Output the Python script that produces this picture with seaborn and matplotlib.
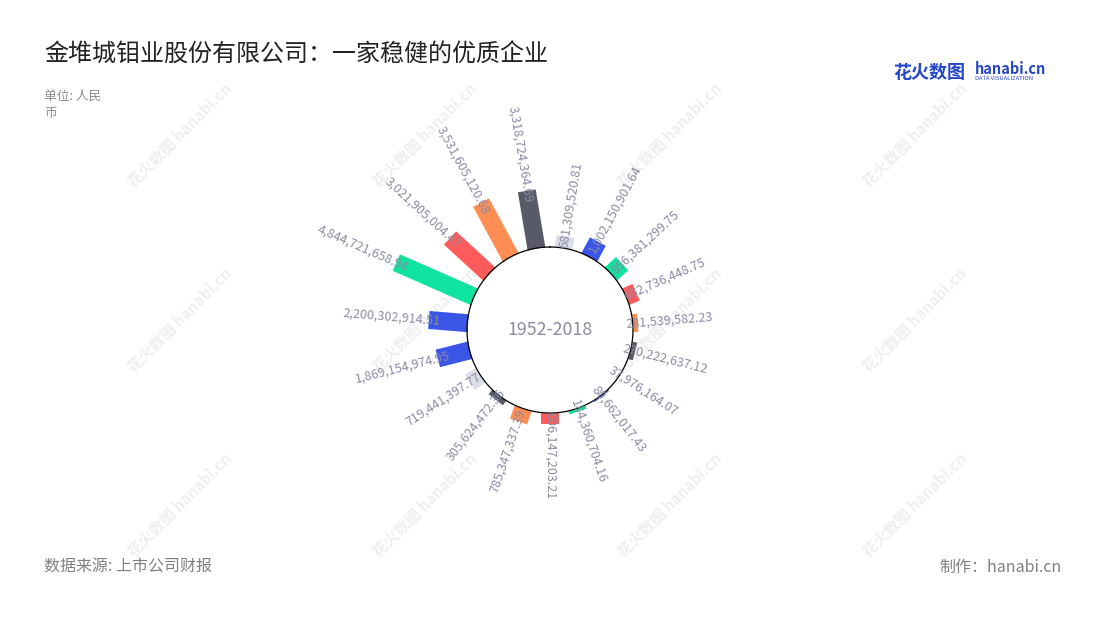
import numpy as np
import matplotlib
matplotlib.use('Agg')
from matplotlib import pyplot as plt
import seaborn as sns

# values clockwise from the top, 19 years
values = [681309520.81, 1002150901.64, 856381299.75, 632736448.75, 281539582.23,
          270222637.12, 37976164.07, 80662017.43, 184360704.16, 606147203.21,
          785347337.39, 305624472.36, 719441397.77, 1869154974.95, 2200302914.51,
          4844721658.94, 3021905004.47, 3531605120.68, 3318724364.69]
color_keys = ["lg", "b", "g", "r", "o", "dg", "lg", "b", "g", "r",
              "o", "dg", "lg", "b", "b", "g", "r", "o", "dg"]
palette = {"dg": "#595a68", "lg": "#dcdfe8", "b": "#3b55e6",
           "g": "#0fe3a0", "r": "#ff5b5a", "o": "#ff8e55"}

title = "金堆城钼业股份有限公司：一家稳健的优质企业"
unit = "单位: 人民\n币"
source = "数据来源: 上市公司财报"
maker = "制作：hanabi.cn"
center_label = "1952-2018"

sns.set_theme(style="white")
plt.rcParams['font.family'] = ['Noto Sans CJK SC', 'DejaVu Sans']

W, H = 1100, 620
fig = plt.figure(figsize=(W / 100, H / 100), dpi=100)
fig.patch.set_facecolor("white")

# polar axes, radius in pixels
cx, cy, R = 550, 330, 210
inner = 83
px_per_b = 17.5
half_w = 9  # bars are straight rectangles, 18px wide
ax = fig.add_axes([(cx - R) / W, (H - cy - R) / H, 2 * R / W, 2 * R / H], projection="polar")
ax.set_theta_zero_location("N")
ax.set_theta_direction(-1)
ax.set_ylim(0, R)
ax.set_axis_off()
ax.patch.set_alpha(0)

n = len(values)
slot = 2 * np.pi / n
theta = slot / 2 + np.arange(n) * slot
heights = np.array(values) / 1e9 * px_per_b
colors = [palette[k] for k in color_keys]

for t, h, c in zip(theta, heights, colors):
    d0, d1 = inner - 6, inner + h
    ds = [d0, d1, d1, d0]
    ws = [-half_w, -half_w, half_w, half_w]
    rs = [np.hypot(d, w) for d, w in zip(ds, ws)]
    ts = [t + np.arctan2(w, d) for d, w in zip(ds, ws)]
    ax.fill(ts, rs, color=c, linewidth=0, zorder=2)

# white hub with thin black outline
circ = np.linspace(0, 2 * np.pi, 400)
ax.fill_between(circ, 0, inner, color="white", zorder=2.5, linewidth=0)
ax.plot(circ, np.full_like(circ, inner), color="black", lw=0.9, zorder=3)

for t, h, v in zip(theta, heights, values):
    deg = np.degrees(t)
    r = inner + h - 12
    if deg <= 180:
        rot, ha = 90 - deg, "left"
    else:
        rot, ha = 270 - deg, "right"
    ax.text(t, r, f"{v:,.2f}", rotation=rot, rotation_mode="anchor", ha=ha, va="center",
            fontsize=9, color="#8a8ba3", zorder=4)

ax.text(0, 0, center_label, ha="center", va="center", fontsize=12.8, color="#8a8ba3", zorder=4)

# watermarks
for wx in [180, 425, 670, 915]:
    for wy in [135, 320, 505]:
        fig.text(wx / W, 1 - wy / H, "花火数图 hanabi.cn", rotation=45, ha="center", va="center",
                 fontsize=11, fontweight="bold", color="#efefef", zorder=-1)

fig.text(44 / W, 1 - 55 / H, title, ha="left", va="center", fontsize=17.3, color="#222222")
fig.text(44 / W, 1 - 90 / H, unit, ha="left", va="top", fontsize=9.2, color="#8c8c8c", linespacing=1.4)
fig.text(44 / W, 1 - 567 / H, source, ha="left", va="center", fontsize=11.5, color="#808080")
fig.text(1062 / W, 1 - 567 / H, maker, ha="right", va="center", fontsize=11.5, color="#808080")

# logo
fig.text(893 / W, 1 - 72 / H, "花火数图", ha="left", va="center", fontsize=13, fontweight="bold", color="#2446c8")
fig.text(975 / W, 1 - 69 / H, "hanabi.cn", ha="left", va="center", fontsize=10.5, fontweight="bold", color="#2446c8")
fig.text(975 / W, 1 - 79 / H, "DATA VISUALIZATION", ha="left", va="center", fontsize=4.2, color="#2446c8")

fig.savefig("out.png", dpi=100)
